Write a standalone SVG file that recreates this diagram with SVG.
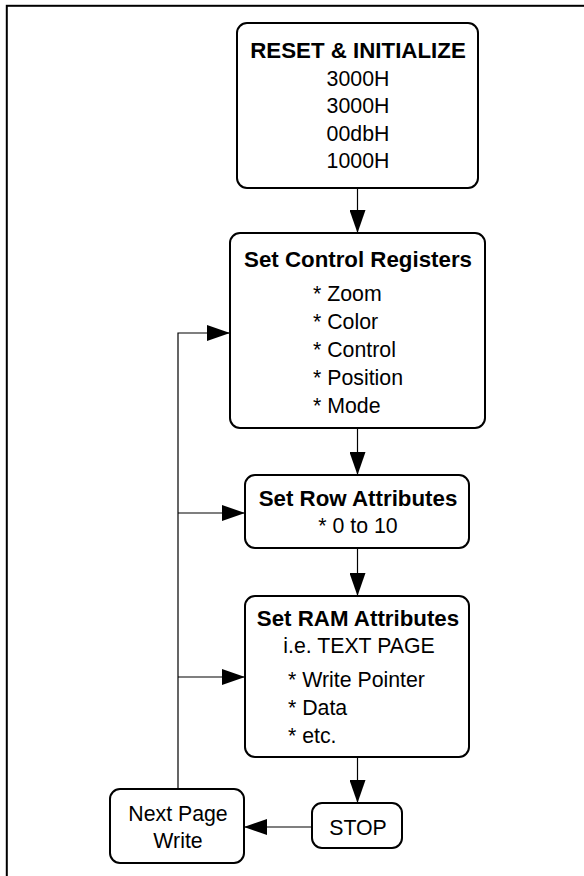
<svg xmlns="http://www.w3.org/2000/svg" width="584" height="876" viewBox="0 0 584 876">
<style>
.box{fill:#fff;stroke:#000;stroke-width:2}
.t{font-family:"Liberation Sans",Arial,sans-serif;font-size:21.3px;fill:#000}
.b{font-weight:bold;font-size:22.3px}
.c{text-anchor:middle}
.con{fill:none;stroke:#000;stroke-width:1.2}
</style>
<defs>
<marker id="ah" markerUnits="userSpaceOnUse" markerWidth="23" markerHeight="16" refX="23" refY="8" orient="auto">
<path d="M0,0 L23,8 L0,16 z" fill="#000"/>
</marker>
</defs>
<rect x="6.8" y="5.8" width="620" height="900" fill="none" stroke="#000" stroke-width="2"/>
<g id="connectors">
<line class="con" x1="357.5" y1="188" x2="357.5" y2="233" marker-end="url(#ah)"/>
<line class="con" x1="357.5" y1="428" x2="357.5" y2="475" marker-end="url(#ah)"/>
<line class="con" x1="357.5" y1="548" x2="357.5" y2="596" marker-end="url(#ah)"/>
<line class="con" x1="357.5" y1="757" x2="357.5" y2="803" marker-end="url(#ah)"/>
<line class="con" x1="312" y1="827" x2="244" y2="827" marker-end="url(#ah)"/>
<polyline class="con" points="178,789 178,333 230,333" marker-end="url(#ah)"/>
<line class="con" x1="178" y1="513" x2="245" y2="513" marker-end="url(#ah)"/>
<line class="con" x1="178" y1="677" x2="245" y2="677" marker-end="url(#ah)"/>
</g>
<g id="reset">
<rect class="box" x="237" y="23" width="241" height="165" rx="10"/>
<text class="t b c" x="358" y="58">RESET &amp; INITIALIZE</text>
<text class="t c" x="358" y="86">3000H</text>
<text class="t c" x="358" y="113">3000H</text>
<text class="t c" x="358" y="141">00dbH</text>
<text class="t c" x="358" y="168">1000H</text>
</g>
<g id="control">
<rect class="box" x="230" y="233" width="255" height="195" rx="10"/>
<text class="t b c" x="358" y="267">Set Control Registers</text>
<text class="t" x="313" y="301">* Zoom</text>
<text class="t" x="313" y="329">* Color</text>
<text class="t" x="313" y="357">* Control</text>
<text class="t" x="313" y="385">* Position</text>
<text class="t" x="313" y="413">* Mode</text>
</g>
<g id="row">
<rect class="box" x="245" y="475" width="224" height="73" rx="10"/>
<text class="t b c" x="358" y="506">Set Row Attributes</text>
<text class="t c" x="358" y="533">* 0 to 10</text>
</g>
<g id="ram">
<rect class="box" x="245" y="596" width="224" height="161" rx="10"/>
<text class="t b c" x="358" y="626">Set RAM Attributes</text>
<text class="t c" x="359" y="653">i.e. TEXT PAGE</text>
<text class="t" x="288" y="687">* Write Pointer</text>
<text class="t" x="288" y="715">* Data</text>
<text class="t" x="288" y="743">* etc.</text>
</g>
<g id="stop">
<rect class="box" x="312" y="803" width="90" height="45" rx="10"/>
<text class="t c" x="358" y="835">STOP</text>
</g>
<g id="next">
<rect class="box" x="110" y="789" width="134" height="74" rx="10"/>
<text class="t c" x="178" y="821">Next Page</text>
<text class="t c" x="178" y="848">Write</text>
</g>
</svg>
